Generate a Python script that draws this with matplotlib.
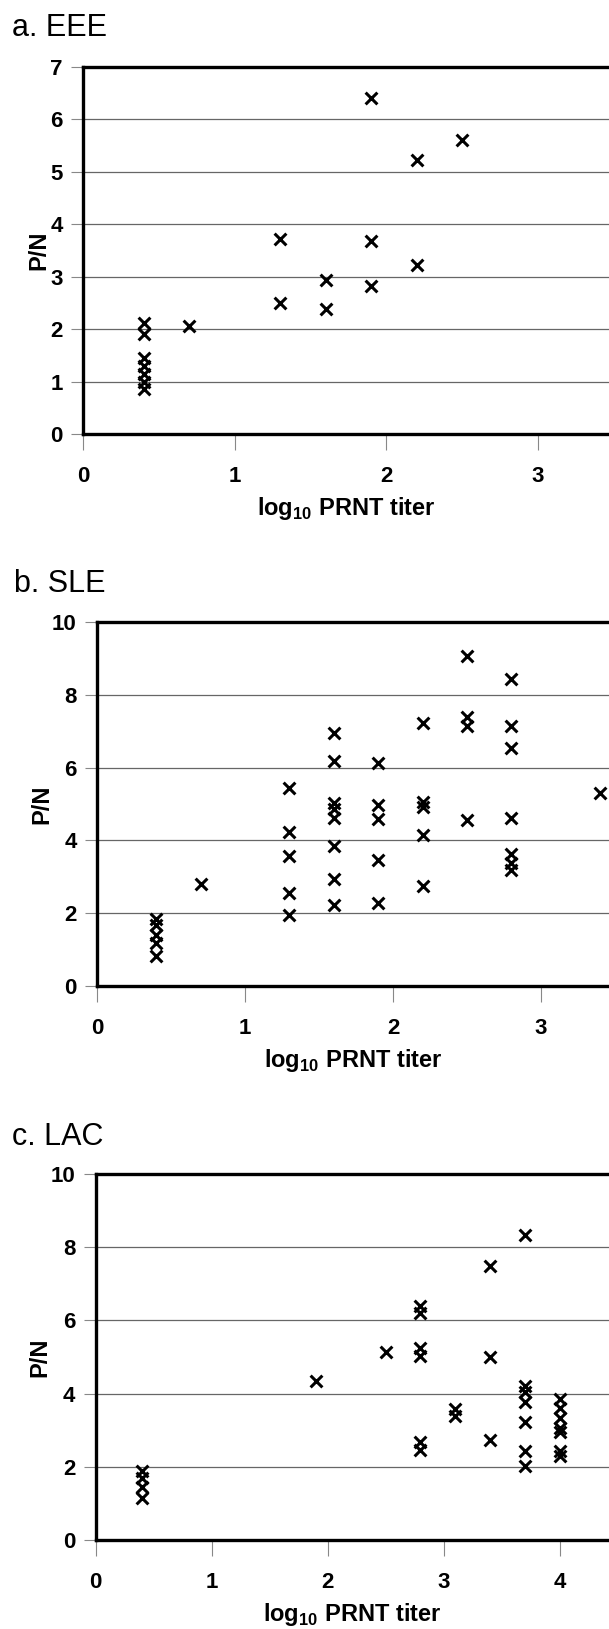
import matplotlib.pyplot as plt
import numpy as np

plt.rcParams['font.family'] = ['Liberation Sans Narrow', 'Liberation Sans', 'DejaVu Sans']
plt.rcParams['mathtext.fontset'] = 'custom'
plt.rcParams['mathtext.rm'] = 'Liberation Sans:bold'
plt.rcParams['mathtext.bf'] = 'Liberation Sans:bold'

# a. EEE  (log10 PRNT titer vs P/N)
eee_x = [0.4, 0.4, 0.4, 0.4, 0.4, 0.4, 0.4, 0.7, 1.3, 1.3, 1.6, 1.6, 1.9, 1.9, 1.9, 2.2, 2.2, 2.5]
eee_y = [2.12, 1.9, 1.45, 1.3, 1.14, 1.0, 0.86, 2.06, 3.71, 2.5, 2.93, 2.39, 6.4, 3.68, 2.82, 5.22, 3.22, 5.6]

# b. SLE
sle_x = [0.4, 0.4, 0.4, 0.4, 0.4, 0.7,
         1.3, 1.3, 1.3, 1.3, 1.3,
         1.6, 1.6, 1.6, 1.6, 1.6, 1.6, 1.6, 1.6,
         1.9, 1.9, 1.9, 1.9, 1.9,
         2.2, 2.2, 2.2, 2.2, 2.2,
         2.5, 2.5, 2.5, 2.5,
         2.8, 2.8, 2.8, 2.8, 2.8, 2.8, 2.8,
         3.4]
sle_y = [1.85, 1.68, 1.4, 1.18, 0.82, 2.8,
         5.45, 4.23, 3.57, 2.55, 1.96,
         6.95, 6.17, 5.02, 4.85, 4.62, 3.84, 2.95, 2.23,
         6.13, 4.98, 4.6, 3.45, 2.28,
         7.23, 5.05, 4.92, 4.14, 2.74,
         9.06, 7.38, 7.14, 4.57,
         8.43, 7.14, 6.53, 4.61, 3.62, 3.38, 3.19,
         5.3]

# c. LAC
lac_x = [0.4, 0.4, 0.4, 0.4, 1.9, 2.5,
         2.8, 2.8, 2.8, 2.8, 2.8, 2.8,
         3.1, 3.1, 3.4, 3.4, 3.4,
         3.7, 3.7, 3.7, 3.7, 3.7, 3.7, 3.7,
         4.0, 4.0, 4.0, 4.0, 4.0, 4.0, 4.0]
lac_y = [1.88, 1.7, 1.44, 1.14, 4.34, 5.14,
         6.38, 6.2, 5.24, 5.02, 2.69, 2.47,
         3.58, 3.38, 7.5, 5.01, 2.73,
         8.33, 4.2, 4.04, 3.78, 3.22, 2.44, 2.03,
         3.84, 3.6, 3.33, 3.05, 2.95, 2.42, 2.3]

titles = ['a. EEE', 'b. SLE', 'c. LAC']
xs = [eee_x, sle_x, lac_x]
ys = [eee_y, sle_y, lac_y]
ymaxes = [7, 10, 10]
ysteps = [1, 2, 2]

W, H = 609, 1629
fig = plt.figure(figsize=(W / 100, H / 100), dpi=100)

# pixel layout: axes left, top, bottom, pixels per x unit
boxes = [(83, 66.7, 434, 151.7), (97, 622, 986, 148.0), (95.5, 1174, 1540, 116.0)]
title_pos = [(12, 36), (14, 592), (12, 1145)]
ylabel_px = [38.5, 41.5, 39.5]

for i in range(3):
    left, top, bottom, xunit = boxes[i]
    ax = fig.add_axes([left / W, 1 - bottom / H, (W - left) / W, (bottom - top) / H])
    ax.scatter(xs[i], ys[i], marker='x', s=72, c='black', linewidths=2.2, zorder=3, clip_on=False)
    ax.set_xlim(0, (W - left) / xunit)
    ax.set_ylim(0, ymaxes[i])
    ax.set_yticks(np.arange(0, ymaxes[i] + 1, ysteps[i]))
    ax.set_xticks(range(0, int((W - left) / xunit) + 1))
    ax.yaxis.grid(True, color='#666666', lw=0.9)
    ax.set_axisbelow(True)
    for s in ['left', 'top', 'bottom']:
        ax.spines[s].set_linewidth(2.4)
    ax.spines['right'].set_visible(False)
    ax.tick_params(axis='x', length=11.5, width=0.8, color='#888888', pad=11.5, labelsize=16)
    ax.tick_params(axis='y', length=8.6, width=0.8, color='#888888', pad=6, labelsize=16)
    for lbl in ax.get_xticklabels() + ax.get_yticklabels():
        lbl.set_fontweight('bold')

    ax_h = bottom - top
    ax.set_xlabel(r'log$_{\mathregular{10}}$ PRNT titer', fontsize=17, fontweight='bold')
    ax.xaxis.set_label_coords(0.5, -75 / ax_h)
    ax.xaxis.label.set_va('center')
    ax.set_ylabel('P/N', fontsize=17, fontweight='bold', family='Liberation Sans')
    ax.yaxis.set_label_coords((ylabel_px[i] - left) / (W - left), 0.5)
    ax.yaxis.label.set_va('center')

    tx, ty = title_pos[i]
    fig.text(tx / W, 1 - ty / H, titles[i], fontsize=22, family='Liberation Sans',
             va='baseline', ha='left')

plt.savefig('out.png', dpi=100)
